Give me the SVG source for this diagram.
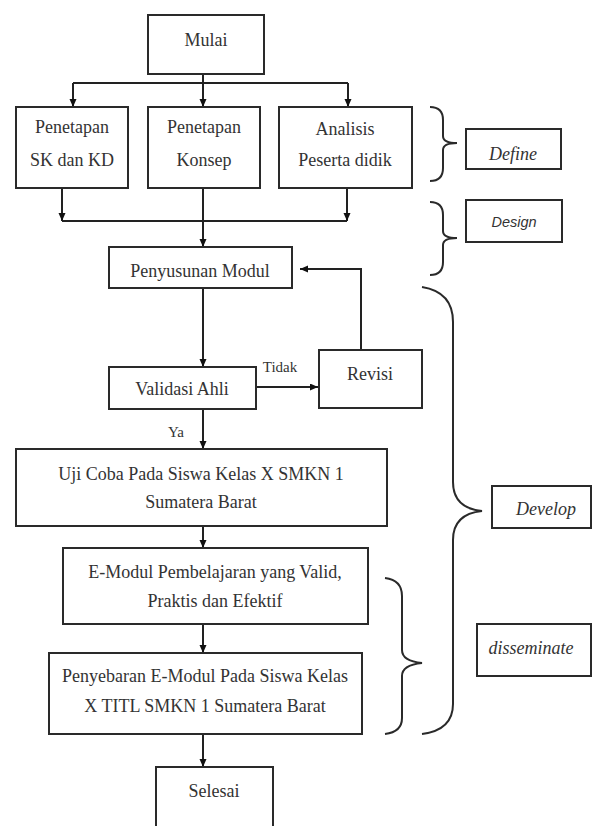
<svg xmlns="http://www.w3.org/2000/svg" width="592" height="826" viewBox="0 0 592 826">
<style>
.box{fill:#fff;stroke:#2a2a2a;stroke-width:2}
.t{font-family:'Liberation Serif','Times New Roman',Times,'DejaVu Serif',serif;font-size:18px;fill:#333;text-anchor:middle}
.it{font-style:italic}
.sm{font-size:15px}
.ln{fill:none;stroke:#222;stroke-width:2}
.br{fill:none;stroke:#2a2a2a;stroke-width:2}
</style>
<defs>
<marker id="ah" markerUnits="userSpaceOnUse" markerWidth="9" markerHeight="8" refX="8" refY="3.5" orient="auto">
<path d="M0,0 L8,3.5 L0,7 z" fill="#111"/>
</marker>
</defs>
<rect width="592" height="826" fill="#fff"/>
<g id="connectors">
<path class="ln" d="M203,74 V83 M73,83 H348"/>
<path class="ln" d="M73,83 V107" marker-end="url(#ah)"/>
<path class="ln" d="M203,83 V107" marker-end="url(#ah)"/>
<path class="ln" d="M348,83 V107" marker-end="url(#ah)"/>
<path class="ln" d="M62,221 H347"/>
<path class="ln" d="M62,188 V221" marker-end="url(#ah)"/>
<path class="ln" d="M347,188 V221" marker-end="url(#ah)"/>
<path class="ln" d="M203,188 V247" marker-end="url(#ah)"/>
<path class="ln" d="M203,288 V367" marker-end="url(#ah)"/>
<path class="ln" d="M256,387 H318" marker-end="url(#ah)"/>
<path class="ln" d="M361,350 V269 H300" marker-end="url(#ah)"/>
<path class="ln" d="M203,409 V449" marker-end="url(#ah)"/>
<path class="ln" d="M203,526 V548" marker-end="url(#ah)"/>
<path class="ln" d="M203,624 V653" marker-end="url(#ah)"/>
<path class="ln" d="M203,734 V767" marker-end="url(#ah)"/>
<text class="t sm" x="280" y="372" font-family="Liberation Serif, serif">Tidak</text>
<text class="t sm" x="176" y="437" font-family="Liberation Serif, serif">Ya</text>
</g>
<g font-family="Liberation Serif, serif">
<g id="mulai"><rect class="box" x="148" y="15" width="116" height="59"/><text class="t" x="206" y="46">Mulai</text></g>
<g id="sk-kd"><rect class="box" x="16" y="107" width="112" height="81"/><text class="t" x="72" y="133">Penetapan</text><text class="t" x="72" y="166">SK dan KD</text></g>
<g id="konsep"><rect class="box" x="148" y="107" width="112" height="81"/><text class="t" x="204" y="133">Penetapan</text><text class="t" x="204" y="166">Konsep</text></g>
<g id="analisis"><rect class="box" x="279" y="107" width="133" height="81"/><text class="t" x="345" y="135">Analisis</text><text class="t" x="345" y="166">Peserta didik</text></g>
<g id="penyusunan"><rect class="box" x="109" y="247" width="183" height="41"/><text class="t" x="200" y="277">Penyusunan Modul</text></g>
<g id="validasi"><rect class="box" x="109" y="367" width="147" height="42"/><text class="t" x="182" y="395">Validasi Ahli</text></g>
<g id="revisi"><rect class="box" x="319" y="350" width="103" height="58"/><text class="t" x="370" y="380">Revisi</text></g>
<g id="ujicoba"><rect class="box" x="16" y="449" width="371" height="77"/><text class="t" x="201" y="480">Uji Coba Pada Siswa Kelas X SMKN 1</text><text class="t" x="201" y="508">Sumatera Barat</text></g>
<g id="emodul"><rect class="box" x="63" y="548" width="305" height="76"/><text class="t" x="215" y="578">E-Modul Pembelajaran yang Valid,</text><text class="t" x="215" y="607">Praktis dan Efektif</text></g>
<g id="penyebaran"><rect class="box" x="49" y="653" width="313" height="81"/><text class="t" x="205" y="682">Penyebaran E-Modul Pada Siswa Kelas</text><text class="t" x="205" y="712">X TITL SMKN 1 Sumatera Barat</text></g>
<g id="selesai"><rect class="box" x="156" y="767" width="117" height="64"/><text class="t" x="214" y="797">Selesai</text></g>
<g id="define">
<path class="br" d="M430,107 Q443,107 443,120 L443,136 Q443,143 457,143 Q443,143 443,150 L443,168 Q443,181 430,181"/>
<rect class="box" x="466" y="129" width="95" height="40"/><text class="t it" x="513" y="160">Define</text>
</g>
<g id="design">
<path class="br" d="M430,202 Q443,202 443,215 L443,231 Q443,238 457,238 Q443,238 443,245 L443,262 Q443,275 430,275"/>
<rect class="box" x="466" y="200" width="96" height="42"/><text class="t it" x="514" y="227" style="font-family:'Liberation Sans',Arial,sans-serif;font-size:14.5px">Design</text>
</g>
<g id="develop">
<path class="br" d="M422,287 Q453,292 453,322 L453,482 Q453,508 482,511 Q453,514 453,540 L453,704 Q453,730 422,734"/>
<rect class="box" x="492" y="486" width="99" height="42"/><text class="t it" x="546" y="515">Develop</text>
</g>
<g id="disseminate">
<path class="br" d="M385,578 Q402,580 402,596 L402,650 Q402,661 422,663 Q402,665 402,676 L402,718 Q402,732 385,734"/>
<rect class="box" x="477" y="624" width="114" height="52"/><text class="t it" x="531" y="654">disseminate</text>
</g>
</g>
</svg>
